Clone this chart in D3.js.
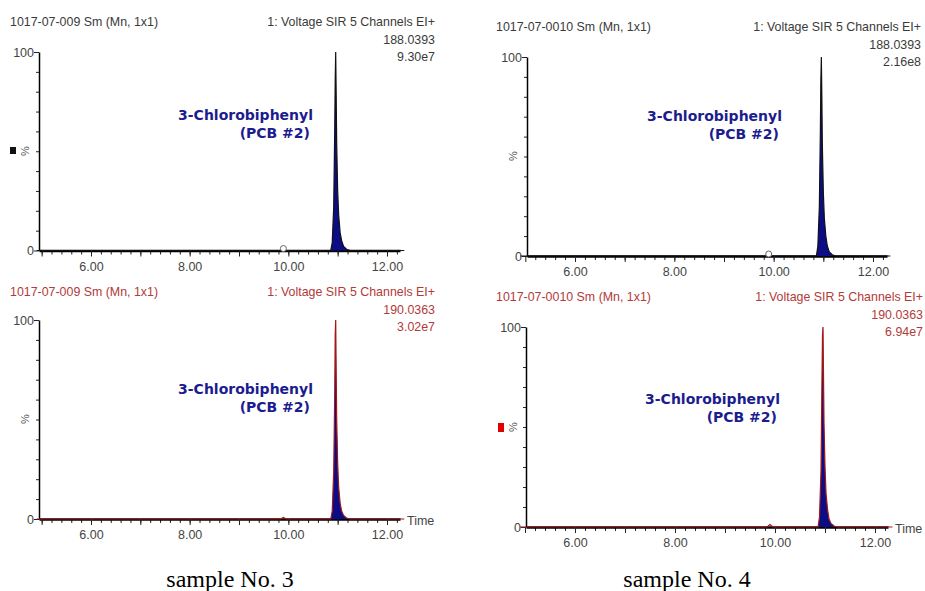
<!DOCTYPE html>
<html>
<head>
<meta charset="utf-8">
<script src="https://cdn.jsdelivr.net/npm/d3@7"></script>
<style>
  body { margin: 0; background: #fff; }
  svg text { font-family: "Liberation Sans", Arial, sans-serif; }
</style>
</head>
<body>
<div id="chart"></div>
<script>
// retention times (min) of the SIR trace, shared by the four panels
var times = [4.90, 9.84, 9.87, 9.90, 9.93, 9.96, 10.86, 10.89, 10.92, 10.94, 10.95, 10.96, 10.97, 10.98, 11.00, 11.02, 11.05, 11.08, 11.12, 11.18, 11.25, 12.35];
// relative intensity (%) for each panel
var valsTL = [0, 0, 0, 0, 0, 0, 0, 4, 22, 60, 85, 100, 78, 54, 30, 18, 9, 5, 2, 0.6, 0, 0];
var valsTR = [0, 0, 0, 0, 0, 0, 0, 5, 25, 62, 88, 100, 80, 56, 32, 19, 10, 5, 2, 0.6, 0, 0];
var valsBL = [0, 0, 0.4, 0.8, 0.4, 0, 0, 4, 24, 62, 92, 100, 74, 50, 28, 16, 8, 4, 1.8, 0.5, 0, 0];
var valsBR = [0, 0, 0.6, 1.2, 0.6, 0, 0, 5, 28, 75, 96, 100, 76, 52, 30, 17, 9, 4, 1.8, 0.5, 0, 0];

var sampleNames = ["1017-07-009 Sm (Mn, 1x1)", "1017-07-0010 Sm (Mn, 1x1)"];
var channelName = "1: Voltage SIR 5 Channels EI+";
var masses = ["188.0393", "188.0393", "190.0363", "190.0363"];
var intensities = ["9.30e7", "2.16e8", "3.02e7", "6.94e7"];
var compound = ["3-Chlorobiphenyl", "(PCB #2)"];
var captions = ["sample No. 3", "sample No. 4"];
var xLabelTicks = [6, 8, 10, 12];
var circleTime = 9.9;

// panel layout (pixels)
var panels = [
  {vals: valsTL, name: 0, m: 0, left: 39, right: 400, x6: 91, x12: 387, top: 52, bot: 250.5,
   hx: 10, hr: 435, hy: 26, lab: [313, 120], pct: [29, 151], mark: "#111", red: false, time: false},
  {vals: valsTR, name: 1, m: 1, left: 527, right: 887, x6: 575, x12: 873, top: 57, bot: 256,
   hx: 496, hr: 921, hy: 31, lab: [782, 121], pct: [517, 156], mark: null, red: false, time: false},
  {vals: valsBL, name: 0, m: 2, left: 39, right: 400, x6: 91, x12: 387, top: 320, bot: 519,
   hx: 10, hr: 435, hy: 296, lab: [313, 394], pct: [29, 419], mark: null, red: true, time: true},
  {vals: valsBR, name: 1, m: 3, left: 526, right: 888, x6: 575, x12: 875, top: 327, bot: 527,
   hx: 496, hr: 923, hy: 301, lab: [780, 404], pct: [517, 427], mark: "#e00000", red: true, time: true}
];

var svg = d3.select("#chart").append("svg")
    .attr("width", 925)
    .attr("height", 591);

panels.forEach(function (p, i) {
    var g = svg.append("g");
    var pxPerMin = (p.x12 - p.x6) / 6;
    var x = d3.scaleLinear()
        .domain([6 + (p.left - p.x6) / pxPerMin, 6 + (p.right - p.x6) / pxPerMin])
        .range([p.left, p.right]);
    var y = d3.scaleLinear().domain([0, 100]).range([p.bot, p.top]);

    var headColor = p.red ? "#b23a3a" : "#3a3a3a";
    var trace = p.red ? "#a01818" : "#111";

    // header lines
    g.append("text").attr("x", p.hx).attr("y", p.hy)
        .attr("font-size", 12.4).attr("fill", headColor)
        .text(sampleNames[p.name]);
    [channelName, masses[p.m], intensities[p.m]].forEach(function (t, k) {
        g.append("text").attr("x", p.hr).attr("y", p.hy + k * 17.5)
            .attr("text-anchor", "end")
            .attr("font-size", 12.4).attr("fill", headColor)
            .text(t);
    });

    // minor / major x ticks
    var minor = d3.range(50, 123, 2).map(function (d) { return d / 10; })
        .filter(function (d) { return d >= x.domain()[0] && d <= x.domain()[1]; });
    g.append("g")
        .attr("transform", "translate(0," + p.bot + ")")
        .call(d3.axisBottom(x).tickValues(minor).tickSize(4).tickFormat("").tickSizeOuter(0))
        .call(function (a) { a.select(".domain").remove(); a.selectAll("line").attr("stroke", "#222"); });
    var xa = g.append("g")
        .attr("transform", "translate(0," + p.bot + ")")
        .call(d3.axisBottom(x).tickValues(d3.range(5, 13)).tickSize(6).tickSizeOuter(0)
            .tickFormat(function (d) { return xLabelTicks.indexOf(d) >= 0 ? d3.format(".2f")(d) : ""; }));
    xa.select(".domain").attr("stroke", "#000").attr("stroke-width", 2.5);
    xa.selectAll("line").attr("stroke", "#222");
    xa.selectAll("text").attr("font-size", 12.5).attr("fill", "#444")
        .attr("font-family", "Liberation Sans, Arial, sans-serif").attr("dy", "0.9em");

    // y axis
    var ya = g.append("g")
        .attr("transform", "translate(" + p.left + ",0)")
        .call(d3.axisLeft(y).tickValues(d3.range(0, 101, 10)).tickSize(3).tickSizeOuter(0)
            .tickFormat(function (d) { return d === 0 || d === 100 ? d : ""; }));
    ya.select(".domain").attr("stroke", "#000").attr("stroke-width", 1.5);
    ya.selectAll("line").attr("stroke", "#222");
    ya.selectAll(".tick").filter(function (d) { return d === 0 || d === 100; })
        .select("line").attr("x2", -5);
    ya.selectAll("text").attr("font-size", 12.5).attr("fill", "#444")
        .attr("font-family", "Liberation Sans, Arial, sans-serif").attr("x", -5);

    g.append("text")
        .attr("transform", "translate(" + p.pct[0] + "," + p.pct[1] + ") rotate(-90)")
        .attr("text-anchor", "middle").attr("font-size", 11).attr("fill", "#555")
        .text("%");

    if (p.mark) {
        g.append("rect").attr("x", p.pct[0] - 19).attr("y", p.pct[1] - 4)
            .attr("width", 6).attr("height", p.red ? 9 : 7).attr("fill", p.mark);
    }

    // trace
    var pts = times.map(function (t, k) { return [t, p.vals[k]]; });
    var area = d3.area().x(function (d) { return x(d[0]); })
        .y0(y(0)).y1(function (d) { return y(d[1]); });
    var line = d3.line().x(function (d) { return x(d[0]); }).y(function (d) { return y(d[1]); });
    var peakPts = pts.filter(function (d) { return d[0] > 10.5; });
    g.append("path").datum(peakPts).attr("d", area).attr("fill", "#0c0c86");
    g.append("path").datum(pts).attr("d", line)
        .attr("fill", "none").attr("stroke", trace).attr("stroke-width", 1.2);

    if (!p.red) {
        g.append("circle").attr("cx", x(circleTime)).attr("cy", p.bot - 2).attr("r", 3)
            .attr("fill", "#fff").attr("stroke", "#666").attr("stroke-width", 1);
    }

    if (p.time) {
        g.append("text").attr("x", p.right + 7).attr("y", p.bot + 6)
            .attr("font-size", 12.5).attr("fill", "#444").text("Time");
    }

    // compound label
    compound.forEach(function (t, k) {
        g.append("text").attr("x", p.lab[0] - (k ? 3 : 0)).attr("y", p.lab[1] + k * 18)
            .attr("text-anchor", "end").attr("font-size", 14).attr("font-weight", "bold")
            .style("font-family", "'DejaVu Sans', sans-serif")
            .attr("fill", "#1c1c8e").text(t);
    });
});

captions.forEach(function (c, i) {
    svg.append("text").attr("x", i ? 687 : 230).attr("y", 587)
        .attr("text-anchor", "middle")
        .attr("font-size", 24).attr("fill", "#000")
        .style("font-family", "'Liberation Serif', serif")
        .text(c);
});
</script>
</body>
</html>
